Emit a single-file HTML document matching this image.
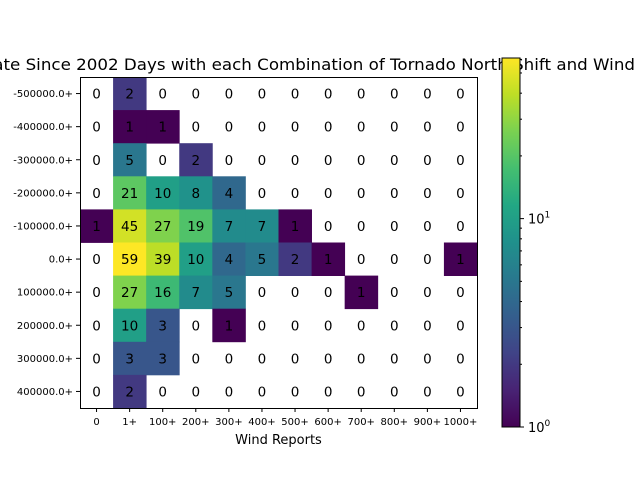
<!DOCTYPE html>
<html><head><meta charset="utf-8"><style>
body{margin:0;background:#fff;}
svg{display:block;font-family:"DejaVu Sans","Liberation Sans",sans-serif;}
</style></head><body>
<svg id="chart" width="640" height="480" viewBox="0 0 640 480">
<text x="-18" y="70" font-size="16" textLength="653" lengthAdjust="spacingAndGlyphs">Rate Since 2002 Days with each Combination of Tornado North Shift and Wind</text>
<g id="cells"></g>
<g id="xticks"></g>
<g id="yticks"></g>
<rect x="80.5" y="77.5" width="397" height="331" fill="none" stroke="#000" stroke-width="1"/>
<text x="278.5" y="444" font-size="13" text-anchor="middle">Wind Reports</text>
<defs><linearGradient id="vg" x1="0" y1="1" x2="0" y2="0"></linearGradient></defs>
<rect x="502" y="58" width="18" height="369" fill="url(#vg)" stroke="#000" stroke-width="1"/>
<g id="cbticks"></g>
</svg>
<script>
const rowLabels=["-500000.0+","-400000.0+","-300000.0+","-200000.0+","-100000.0+","0.0+","100000.0+","200000.0+","300000.0+","400000.0+"];
const colLabels=["0","1+","100+","200+","300+","400+","500+","600+","700+","800+","900+","1000+"];
const r0=[0,2,0,0,0,0,0,0,0,0,0,0];
const r1=[0,1,1,0,0,0,0,0,0,0,0,0];
const r2=[0,5,0,2,0,0,0,0,0,0,0,0];
const r3=[0,21,10,8,4,0,0,0,0,0,0,0];
const r4=[1,45,27,19,7,7,1,0,0,0,0,0];
const r5=[0,59,39,10,4,5,2,1,0,0,0,1];
const r6=[0,27,16,7,5,0,0,0,1,0,0,0];
const r7=[0,10,3,0,1,0,0,0,0,0,0,0];
const r8=[0,3,3,0,0,0,0,0,0,0,0,0];
const r9=[0,2,0,0,0,0,0,0,0,0,0,0];
const rows=[r0,r1,r2,r3,r4,r5,r6,r7,r8,r9];

const NS="http://www.w3.org/2000/svg";
const X0=80,Y0=77,W=397,H=331;
const cw=W/colLabels.length, ch=H/rowLabels.length;
const vmax=Math.max(...rows.flat());
const vmin=1;
const vir=[[68,1,84],[72,35,116],[64,67,135],[52,94,141],[41,120,142],[32,144,140],[34,167,132],[68,190,112],[121,209,81],[189,222,38],[253,231,37]];
function viridis(t){t=Math.max(0,Math.min(1,t));const p=t*(vir.length-1);const i=Math.min(Math.floor(p),vir.length-2);const f=p-i;
 const c=vir[i].map((a,k)=>Math.round(a+(vir[i+1][k]-a)*f));return `rgb(${c[0]},${c[1]},${c[2]})`;}
function norm(v){return Math.log(v/vmin)/Math.log(vmax/vmin);}
function xs(j){return X0+j*cw;}
function ys(i){return Y0+i*ch;}
function el(t,a){const e=document.createElementNS(NS,t);for(const k in a)e.setAttribute(k,a[k]);return e;}
const cells=document.getElementById('cells');
rows.forEach((row,i)=>row.forEach((v,j)=>{
 if(v>0){const r=el('rect',{x:xs(j),y:ys(i),width:cw+0.4,height:ch+0.4,fill:viridis(norm(v))});
  
  
  cells.appendChild(r);}
 const t=el('text',{x:xs(j)+cw/2,y:ys(i)+ch/2+5,'font-size':13.5,'text-anchor':'middle'});
 t.textContent=v;
 
 
 cells.appendChild(t);
}));
const xt=document.getElementById('xticks');
colLabels.forEach((l,j)=>{const x=xs(j)+cw/2;
 const tk=el('line',{x1:x,x2:x,y1:Y0+H,y2:Y0+H+4,stroke:'#000'});
 
 
 xt.appendChild(tk);
 const t=el('text',{x:x,y:Y0+H+17,'font-size':10,'text-anchor':'middle'});t.textContent=l;
 
 
 xt.appendChild(t);});
const yt=document.getElementById('yticks');
rowLabels.forEach((l,i)=>{const y=ys(i)+ch/2;
 const tk=el('line',{x1:X0-4,x2:X0,y1:y,y2:y,stroke:'#000'});
 
 
 yt.appendChild(tk);
 const t=el('text',{x:X0-7,y:y+3.5,'font-size':10,'text-anchor':'end'});t.textContent=l;
 
 
 yt.appendChild(t);});
const g=document.getElementById('vg');
for(let k=0;k<=20;k++){const s=el('stop',{offset:k/20,'stop-color':viridis(k/20)});g.appendChild(s);}
const CB0=427,CBH=369;
const cb=document.getElementById('cbticks');
for(let d=1;d<=9;d++)for(const m of [1,10]){const v=d*m;if(v<vmin||v>vmax)continue;
 const y=CB0-norm(v)*CBH;const major=(d===1);
 const tk=el('line',{x1:520,x2:520+(major?4:2),y1:y,y2:y,stroke:'#000'});
 
 
 cb.appendChild(tk);
 if(major){const t=el('text',{x:528,y:y+5,'font-size':13});t.innerHTML=`10<tspan dy="-6" font-size="9">${m===1?0:1}</tspan>`;
  
  
  cb.appendChild(t);}}
</script>
</body></html>
